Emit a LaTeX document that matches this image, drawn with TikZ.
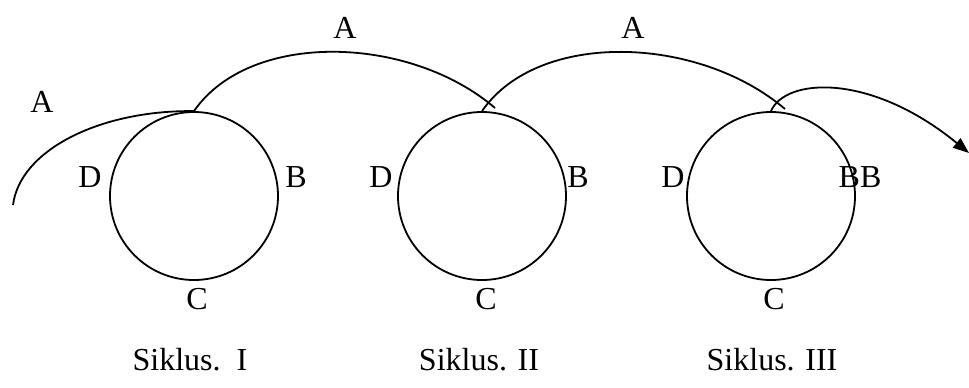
\documentclass[tikz,border=0pt]{standalone}
\usepackage{fontspec}
\setmainfont{Liberation Serif}
\usetikzlibrary{arrows.meta, positioning}

\begin{document}
\begin{tikzpicture}[
            x=0.5pt, y=-0.5pt,
            ring/.style={circle, draw, line width=0.9pt, minimum size=84pt, inner sep=0pt},
            lbl/.style={inner sep=0pt, font=\fontsize{16}{19}\selectfont},
            line/.style={draw, line width=0.9pt},
            arrowline/.style={draw, line width=0.9pt, -{Triangle[length=8pt, width=6pt]}}
        ]
            \useasboundingbox (0,0) rectangle (969,387);

            % Cycles
            \node [ring] (siklus1) at (194,196) {};
            \node [ring] (siklus2) at (482,196) {};
            \node [ring] (siklus3) at (771,196) {};

            % Labels
            \node [lbl] (a0) at (42,102) {A};
            \node [lbl] (a1) at (345,28) {A};
            \node [lbl] (a2) at (633,28) {A};
            \node [lbl] (d1) at (90,177) {D};
            \node [lbl] (b1) at (296,177) {B};
            \node [lbl] (d2) at (381,177) {D};
            \node [lbl] (b2) at (578,177) {B};
            \node [lbl] (d3) at (673,177) {D};
            \node [lbl] (b3) at (860,177) {BB};
            \node [lbl] (c1) at (197,299) {C};
            \node [lbl] (c2) at (486,299) {C};
            \node [lbl] (c3) at (774,299) {C};
            \node [lbl] (name1) at (190,360) {Siklus.\ \ I};
            \node [lbl] (name2) at (479,360) {Siklus. II};
            \node [lbl] (name3) at (772,360) {Siklus. III};

            % Free ends
            \coordinate (start0) at (13,205);
            \coordinate (end1) at (495,108);
            \coordinate (end2) at (785,109);
            \coordinate (tip) at (969,153);

            % Edges
            \path [line] (siklus1.north) .. controls (100,110) and (20,150) .. (start0);
            \path [line] (siklus1.north) .. controls (250,30) and (410,35) .. (end1);
            \path [line] (siklus2.north) .. controls (538,30) and (698,35) .. (end2);
            \path [arrowline] (siklus3.north) .. controls (785,78) and (870,72) .. (tip);
        \end{tikzpicture}
\end{document}
